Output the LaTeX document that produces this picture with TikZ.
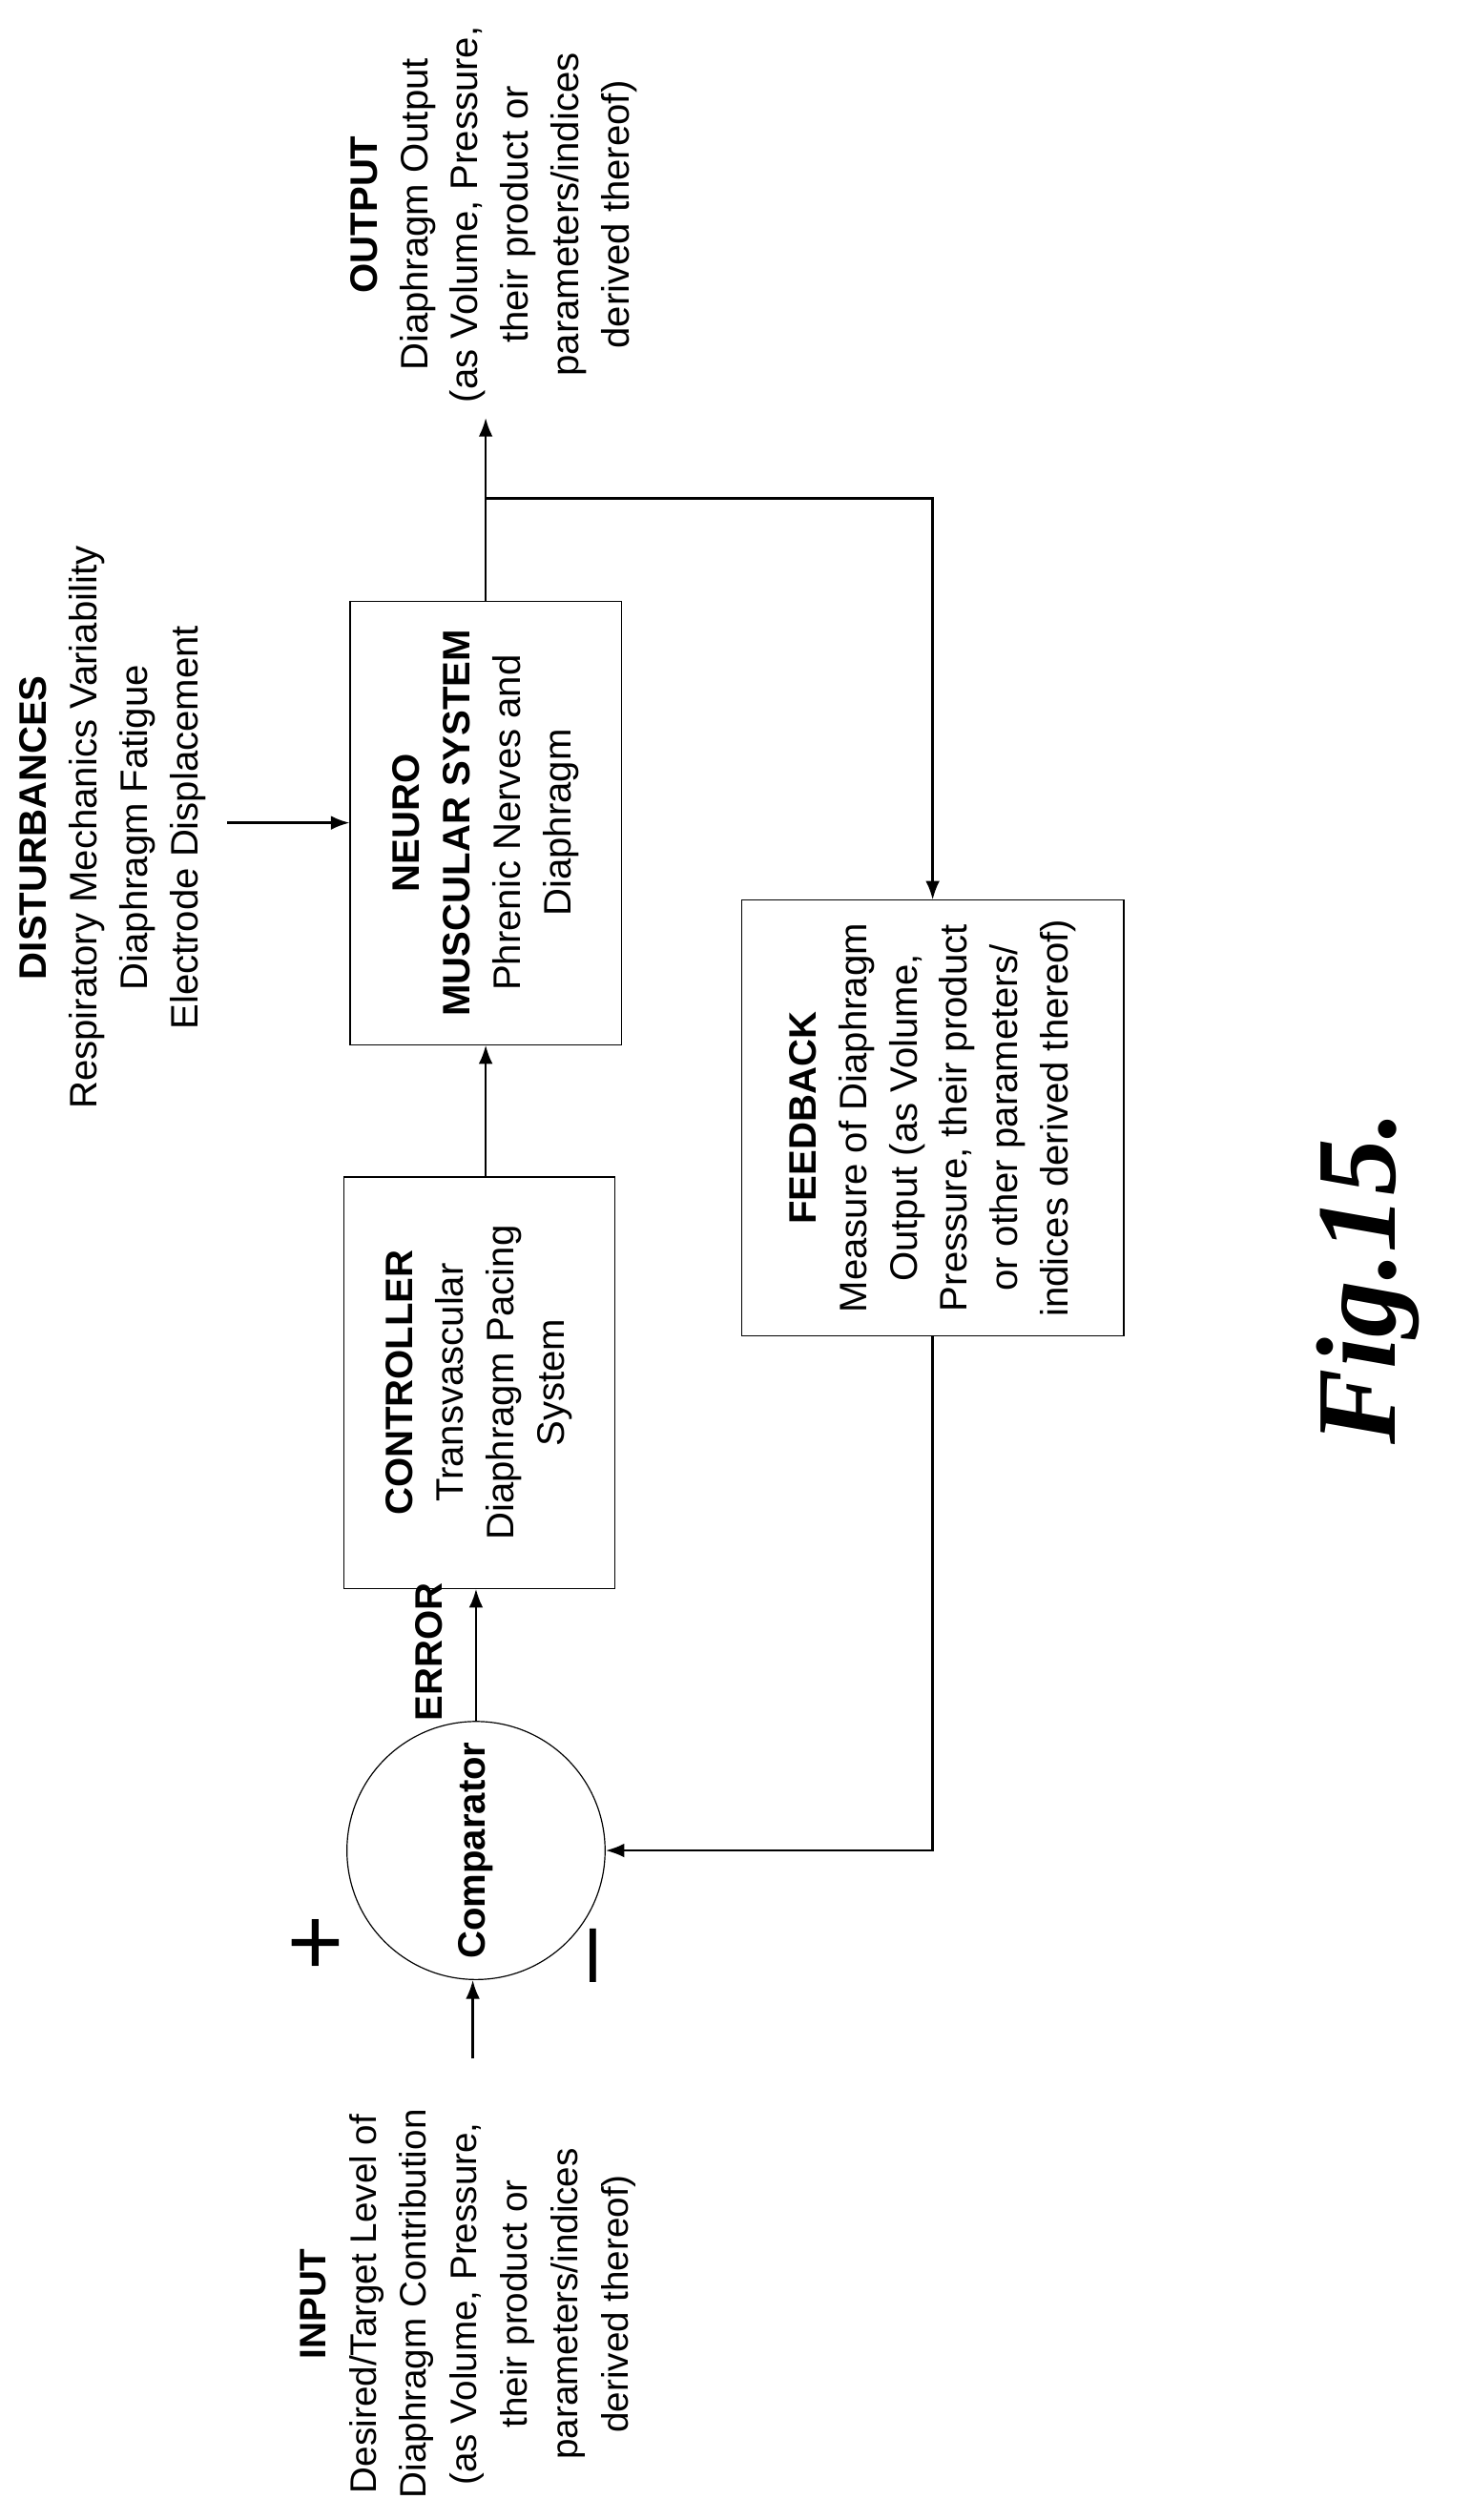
\documentclass[tikz,border=0pt]{standalone}
\usepackage{fontspec}
\setmainfont{Liberation Sans}
\newfontfamily\figfont{Liberation Serif}
\usetikzlibrary{calc,positioning,arrows.meta}

\begin{document}
\begin{tikzpicture}[x=0.02cm,y=-0.02cm,>=Latex,
        blk/.style={draw,rectangle,rotate=90,align=center,font=\fontsize{13.5}{17.8}\selectfont},
        lbl/.style={rotate=90,align=center,font=\fontsize{13.5}{17.8}\selectfont},
        line/.style={thick}]
    \useasboundingbox (0,0) rectangle (912,1562);
        \node[draw,circle,minimum size=3.2cm,inner sep=0pt,rotate=90,font=\fontsize{13.5}{16}\selectfont\bfseries] (cmp) at (295,1147) {Comparator};
        \node[blk,minimum width=5.1cm,minimum height=3.36cm] (ctrl) at (297,857)
            {\textbf{CONTROLLER}\\Transvascular\\Diaphragm Pacing\\System};
        \node[blk,minimum width=5.5cm,minimum height=3.36cm] (nms) at (301,510)
            {\textbf{NEURO}\\\textbf{MUSCULAR SYSTEM}\\Phrenic Nerves and\\Diaphragm};
        \node[blk,minimum width=5.4cm,minimum height=4.74cm] (fb) at (578,693)
            {\textbf{FEEDBACK}\\Measure of Diaphragm\\Output (as Volume,\\Pressure, their product\\or other parameters/\\indices derived thereof)};
        \node[lbl,font=\fontsize{13}{17.8}\selectfont] (inp) at (290,1428)
            {\textbf{INPUT}\\Desired/Target Level of\\Diaphragm Contribution\\(as Volume, Pressure,\\their product or\\parameters/indices\\derived thereof)};
        \node[lbl] (dist) at (70,513)
            {\textbf{DISTURBANCES}\\Respiratory Mechanics Variability\\Diaphragm Fatigue\\Electrode Displacement};
        \node[lbl] (out) at (306,133)
            {\textbf{OUTPUT}\\Diaphragm Output\\(as Volume, Pressure,\\their product or\\parameters/indices\\derived thereof)};
        \node[lbl,font=\fontsize{13.5}{16}\selectfont\bfseries] (err) at (266,1024) {ERROR};
        \node[rotate=90,font=\fontsize{34}{34}\selectfont] (plus) at (198,1204) {+};
        \node[rotate=90,font=\fontsize{34}{34}\selectfont] (minus) at (374,1212) {--};
        \node[rotate=90,font=\fontsize{40}{40}\selectfont\figfont\bfseries\itshape] (fig) at (848,792) {Fig.15.};
        \coordinate (in_start) at (293,1276);
        \coordinate (dist_start) at (141,510);
        \coordinate (split) at (301,309);
        \coordinate (out_end) at (301,259);
        \coordinate (fb_turn) at (578,309);
        \coordinate (cmp_turn) at (578,1147);
    \draw[line,->] (in_start) -- (in_start |- cmp.west);
    \draw[line,->] (cmp.east) -- (cmp.east |- ctrl.west);
    \draw[line,->] (nms.west |- ctrl.east) -- (nms.west);
    \draw[line,->] (dist_start) -- (nms.north);
    \draw[line,->] (nms.east) -- (out_end);
    \draw[line,->] (split) -- (fb_turn) -- (fb.east);
    \draw[line,->] (fb.west) -- (cmp_turn) -- (cmp.south);
\end{tikzpicture}
\end{document}
